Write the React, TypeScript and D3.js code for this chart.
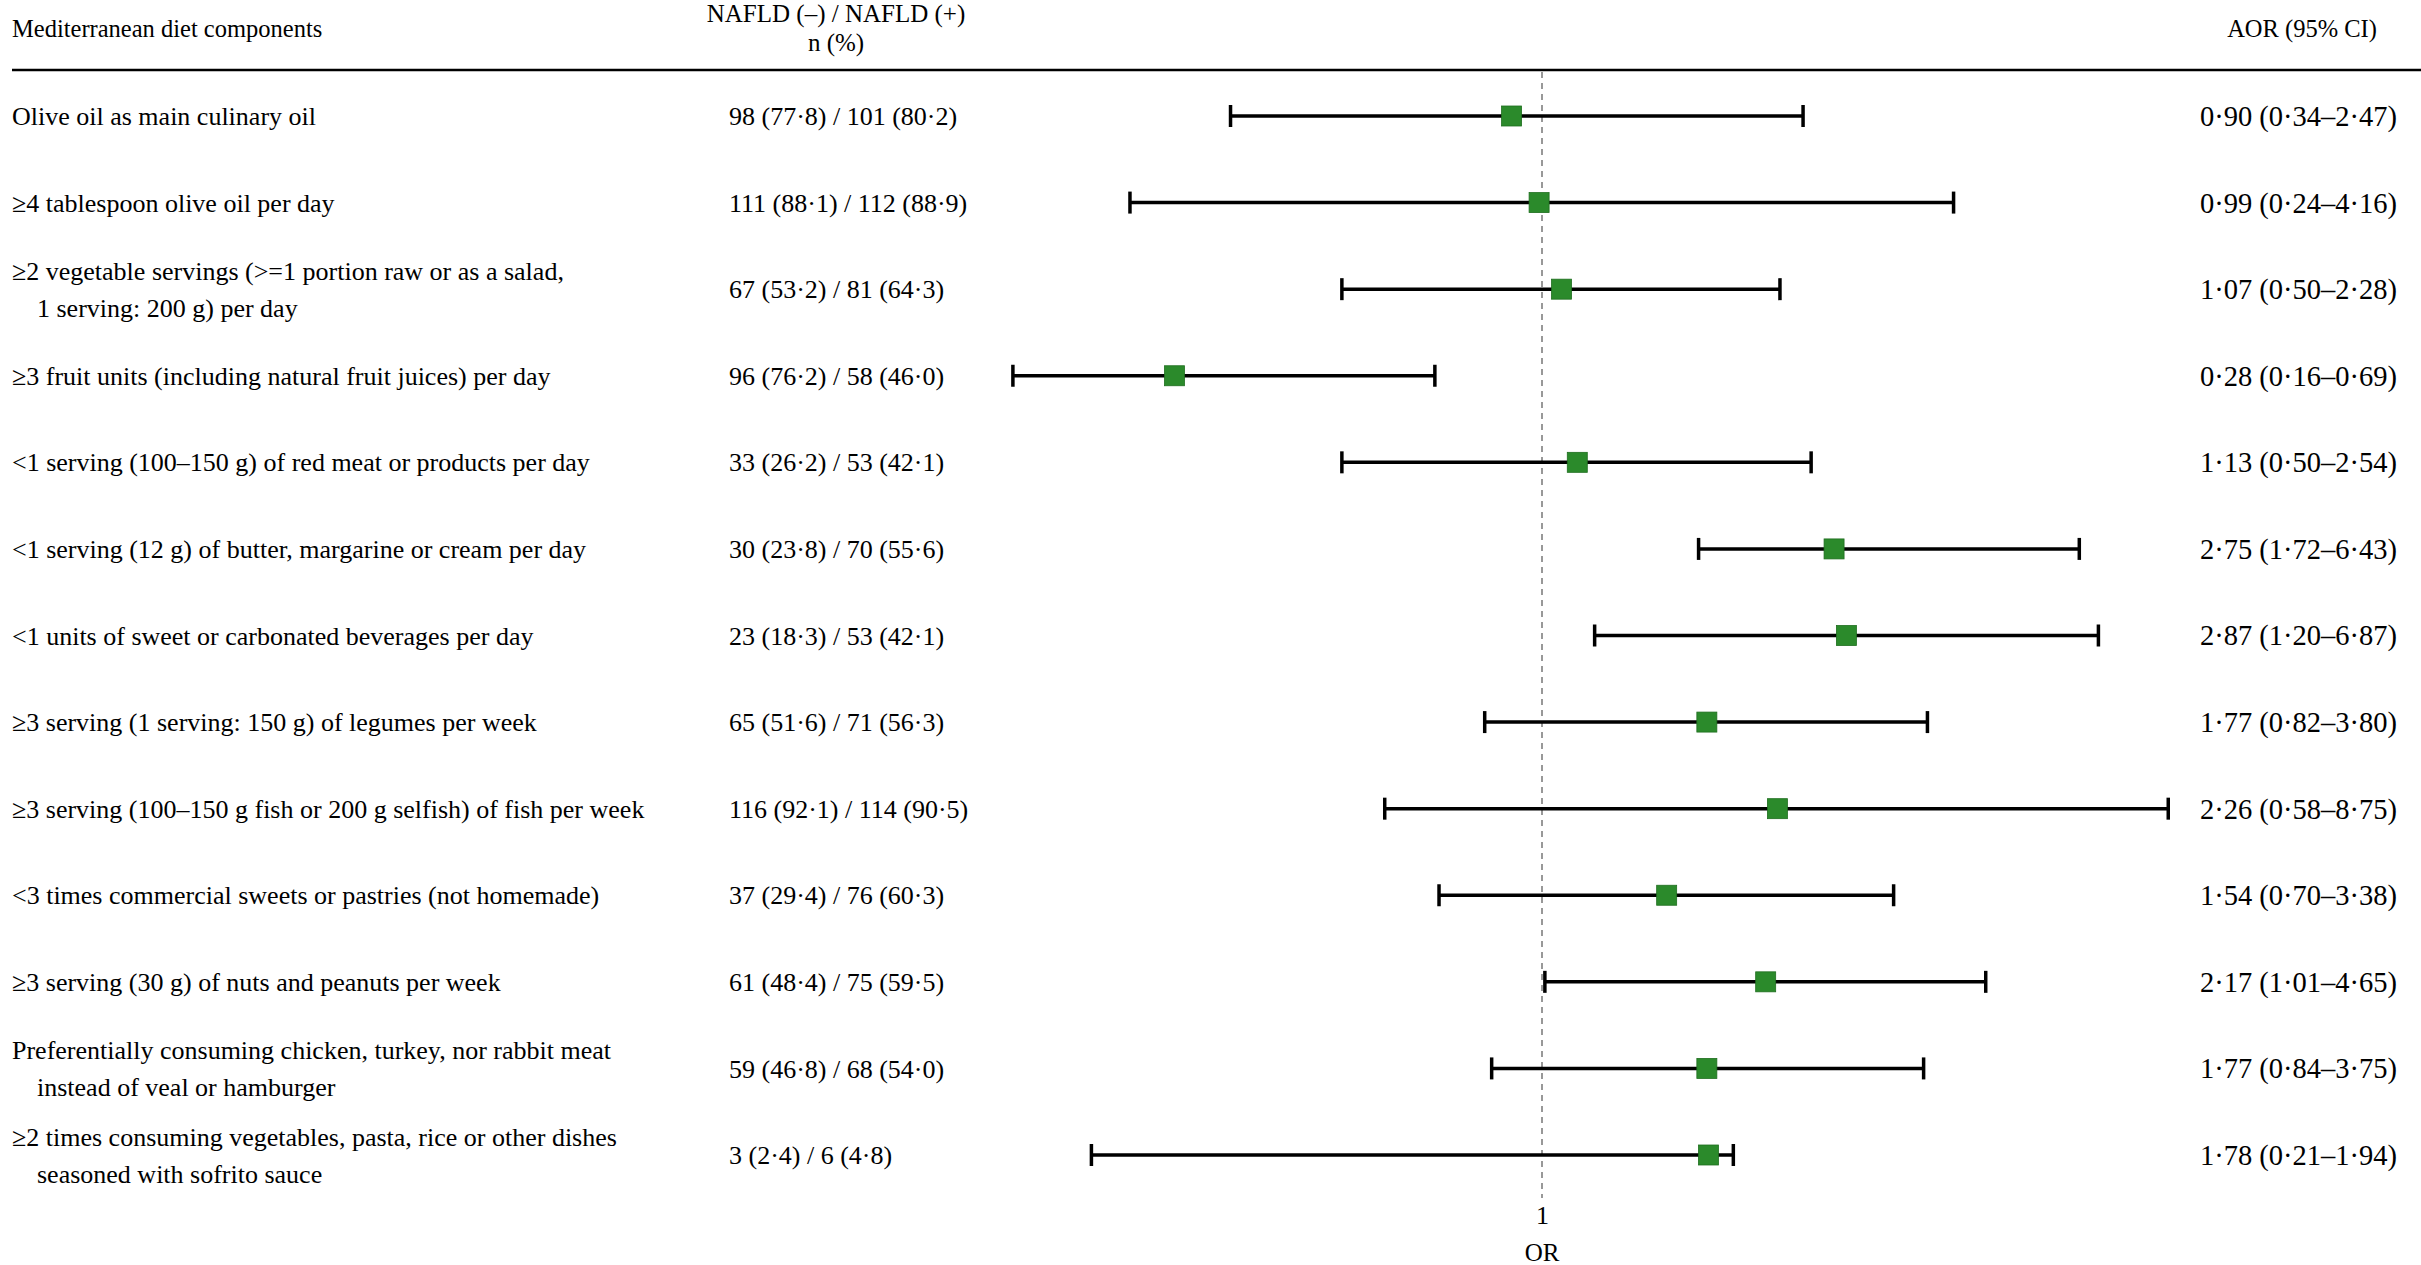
import React, { useEffect, useRef } from "react";
import * as d3 from "d3";

const components = [
  ["Olive oil as main culinary oil"],
  ["≥4 tablespoon olive oil per day"],
  ["≥2 vegetable servings (>=1 portion raw or as a salad,", "1 serving: 200 g) per day"],
  ["≥3 fruit units (including natural fruit juices) per day"],
  ["<1 serving (100–150 g) of red meat or products per day"],
  ["<1 serving (12 g) of butter, margarine or cream per day"],
  ["<1 units of sweet or carbonated beverages per day"],
  ["≥3 serving (1 serving: 150 g) of legumes per week"],
  ["≥3 serving (100–150 g fish or 200 g selfish) of fish per week"],
  ["<3 times commercial sweets or pastries (not homemade)"],
  ["≥3 serving (30 g) of nuts and peanuts per week"],
  ["Preferentially consuming chicken, turkey, nor rabbit meat", "instead of veal or hamburger"],
  ["≥2 times consuming vegetables, pasta, rice or other dishes", "seasoned with sofrito sauce"],
];

// NAFLD (–) and NAFLD (+) counts with percentages
const negN = [98, 111, 67, 96, 33, 30, 23, 65, 116, 37, 61, 59, 3];
const negPct = [77.8, 88.1, 53.2, 76.2, 26.2, 23.8, 18.3, 51.6, 92.1, 29.4, 48.4, 46.8, 2.4];
const posN = [101, 112, 81, 58, 53, 70, 53, 71, 114, 76, 75, 68, 6];
const posPct = [80.2, 88.9, 64.3, 46.0, 42.1, 55.6, 42.1, 56.3, 90.5, 60.3, 59.5, 54.0, 4.8];

// adjusted odds ratios with 95% CI
const aor = [0.9, 0.99, 1.07, 0.28, 1.13, 2.75, 2.87, 1.77, 2.26, 1.54, 2.17, 1.77, 1.78];
const lower = [0.34, 0.24, 0.5, 0.16, 0.5, 1.72, 1.2, 0.82, 0.58, 0.7, 1.01, 0.84, 0.21];
const upper = [2.47, 4.16, 2.28, 0.69, 2.54, 6.43, 6.87, 3.8, 8.75, 3.38, 4.65, 3.75, 1.94];

const refTicks = [1];

const dot = (v: number, d: number) => v.toFixed(d).replace(".", "·");

const App = () => {
  const ref = useRef<SVGSVGElement>(null);

  useEffect(() => {
    const width = 2421;
    const height = 1265;
    const font = "'Liberation Serif', 'Times New Roman', serif";
    const fs = 26;

    const svg = d3.select(ref.current).attr("width", width).attr("height", height);
    svg.selectAll("*").remove();
    svg.style("font-family", font).style("font-size", fs + "px");

    const x = d3.scaleLog().domain([0.1, 10]).range([877.2, 2206.8]);
    const y = d3
      .scalePoint<number>()
      .domain(d3.range(components.length))
      .range([116, 1155]);

    // header
    svg.append("text").attr("x", 12).attr("y", 28).attr("dy", "0.35em").attr("font-size", 24.5).text("Mediterranean diet components");
    svg.append("text").attr("x", 836).attr("y", 13).attr("dy", "0.35em").attr("text-anchor", "middle").attr("font-size", 25).text("NAFLD (–) / NAFLD (+)");
    svg.append("text").attr("x", 836).attr("y", 42).attr("dy", "0.35em").attr("text-anchor", "middle").attr("font-size", 25).text("n (%)");
    svg.append("text").attr("x", 2302).attr("y", 28).attr("dy", "0.35em").attr("text-anchor", "middle").attr("font-size", 24.5).text("AOR (95% CI)");
    svg.append("line").attr("x1", 12).attr("x2", width).attr("y1", 70).attr("y2", 70).attr("stroke", "#000").attr("stroke-width", 2.5);

    // reference line at OR = 1
    svg
      .append("line")
      .attr("x1", x(1))
      .attr("x2", x(1))
      .attr("y1", 72)
      .attr("y2", 1198)
      .attr("stroke", "#777")
      .attr("stroke-width", 1.5)
      .attr("stroke-dasharray", "6,5");

    const axis = d3.axisBottom(x).tickValues(refTicks).tickSize(0).tickFormat(d3.format("d"));
    const gx = svg.append("g").attr("transform", "translate(0,1203)").call(axis);
    gx.select(".domain").remove();
    gx.selectAll("text").attr("font-family", font).attr("font-size", 26).attr("fill", "#000");
    svg.append("text").attr("x", x(1)).attr("y", 1252).attr("dy", "0.35em").attr("text-anchor", "middle").attr("font-size", 25).text("OR");

    const rows = svg
      .append("g")
      .selectAll("g")
      .data(d3.range(components.length))
      .join("g")
      .attr("transform", (i) => `translate(0,${y(i)})`);

    // row labels, wrapped ones indented on the second line
    rows.each(function (i) {
      const lines = components[i];
      const g = d3.select(this);
      lines.forEach((ln, k) => {
        const off = lines.length === 1 ? 0 : (k - 0.5) * 37;
        g.append("text")
          .attr("x", k === 0 ? 12 : 37)
          .attr("y", off)
          .attr("dy", "0.35em")
          .text(ln);
      });
    });

    rows
      .append("text")
      .attr("x", 729)
      .attr("dy", "0.35em")
      .text((i) => `${negN[i]} (${dot(negPct[i], 1)}) / ${posN[i]} (${dot(posPct[i], 1)})`);

    rows
      .append("text")
      .attr("x", 2200)
      .attr("dy", "0.35em")
      .attr("font-size", 28.5)
      .text((i) => `${dot(aor[i], 2)} (${dot(lower[i], 2)}–${dot(upper[i], 2)})`);

    // confidence intervals
    rows
      .append("line")
      .attr("x1", (i) => x(lower[i]))
      .attr("x2", (i) => x(upper[i]))
      .attr("stroke", "#000")
      .attr("stroke-width", 3.5);
    rows
      .append("line")
      .attr("x1", (i) => x(lower[i]))
      .attr("x2", (i) => x(lower[i]))
      .attr("y1", -11)
      .attr("y2", 11)
      .attr("stroke", "#000")
      .attr("stroke-width", 3.5);
    rows
      .append("line")
      .attr("x1", (i) => x(upper[i]))
      .attr("x2", (i) => x(upper[i]))
      .attr("y1", -11)
      .attr("y2", 11)
      .attr("stroke", "#000")
      .attr("stroke-width", 3.5);

    // point estimates
    rows
      .append("rect")
      .attr("x", (i) => x(aor[i]) - 10)
      .attr("y", -10)
      .attr("width", 20)
      .attr("height", 20)
      .attr("fill", "#2b8a2b")
      .attr("stroke", "#1f6e1f")
      .attr("stroke-width", 0.8);
  }, []);

  return (
    <div>
      <svg ref={ref} style={{ position: "absolute", left: 0, top: 0, background: "#fff" }}></svg>
    </div>
  );
};

export default App;
